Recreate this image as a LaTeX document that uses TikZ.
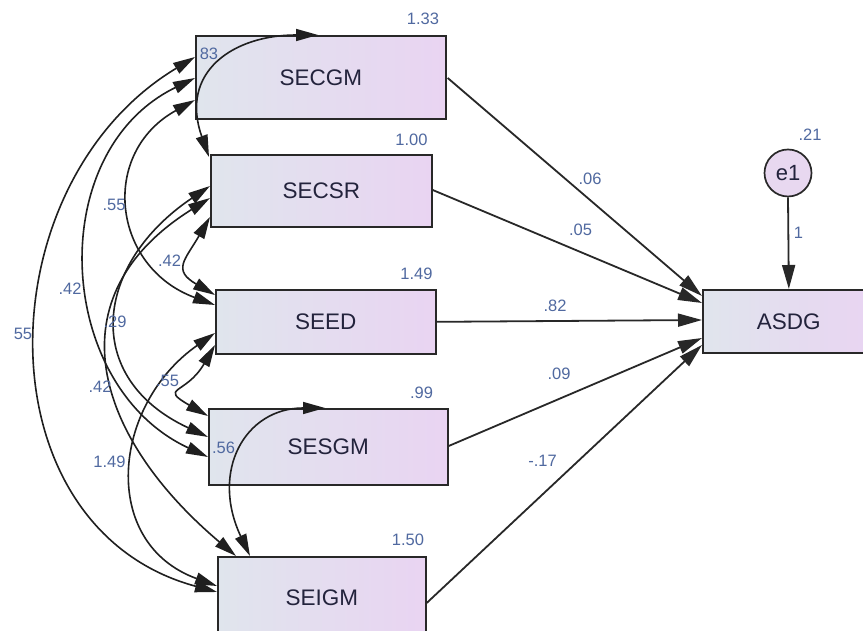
\documentclass[tikz,border=0pt]{standalone}
\usepackage{fontspec}
\setmainfont{Liberation Sans}
\usetikzlibrary{arrows.meta,calc}
\definecolor{boxL}{RGB}{224,229,237}
\definecolor{boxR}{RGB}{233,212,242}
\definecolor{circF}{RGB}{232,216,240}
\definecolor{edgecol}{RGB}{40,40,40}
\definecolor{numcol}{RGB}{80,105,160}
\definecolor{namecol}{RGB}{35,35,60}
\begin{document}
\begin{tikzpicture}[x=1pt,y=1pt,
  box/.style={draw=edgecol, line width=1.7pt, left color=boxL, right color=boxR,
    inner sep=0pt, anchor=north west, font=\fontsize{22.5}{24}\selectfont, text=namecol},
  lab/.style={font=\fontsize{16.5}{18}\selectfont, text=numcol, inner sep=0pt},
  reg/.style={draw=edgecol, line width=1.8pt, -{Triangle[length=24pt,width=13pt]}},
  cov/.style={draw=black!88, line width=1.6pt,
    {Triangle[length=22pt,width=12pt]}-{Triangle[length=22pt,width=12pt]}}]
\useasboundingbox (0,0) rectangle (863,631);
\fill[white] (0,0) rectangle (863,631);
\begin{scope}
\clip (0,0) rectangle (863,631);
% boxes
\node[box, minimum width=250pt, minimum height=83pt] (SECGM) at (195,596) {SECGM};
\node[box, minimum width=221pt, minimum height=72pt] (SECSR) at (210,477) {SECSR};
\node[box, minimum width=220pt, minimum height=64pt] (SEED)  at (215,342) {SEED};
\node[box, minimum width=239pt, minimum height=76pt] (SESGM) at (208,223) {SESGM};
\node[box, minimum width=208pt, minimum height=82pt] (SEIGM) at (217,75)  {SEIGM};
\node[box, minimum width=172pt, minimum height=63pt] (ASDG)  at (702,342) {ASDG};
\node[circle, draw=edgecol, line width=1.7pt, fill=circF, minimum size=47pt, inner sep=0pt,
  font=\fontsize{22}{24}\selectfont, text=namecol] (e1) at (788,458) {e1};

% regression paths
\draw[reg] ($(SECGM.north east)+(1,-43)$) -- ($(ASDG.north west)+(0,-7)$);
\draw[reg] ($(SECSR.north east)+(0,-36)$) -- ($(ASDG.north west)+(0,-14)$);
\draw[reg] (SEED.east) -- ($(ASDG.north west)+(0,-31)$);
\draw[reg] ($(SESGM.north east)+(0,-38)$) -- ($(ASDG.north west)+(0,-49)$);
\draw[reg] ($(SEIGM.north east)+(0,-47)$) -- ($(ASDG.north west)+(0,-56)$);
\draw[reg] (e1.south) -- (ASDG.north);

% covariances
\draw[cov] ($(SECGM.north west)+(123,0)$) .. controls +(-85,0) and +(-30,85) .. ($(SECSR.north west)+(-1,-3)$);
\draw[cov] ($(SESGM.north west)+(117,0)$) .. controls +(-80,0) and +(-40,85) .. ($(SEIGM.north west)+(33,0)$);
\draw[cov] ($(SECGM.north west)+(0,-22)$) .. controls +(-211,-127) and +(-238,64) .. ($(SEIGM.north west)+(0,-36)$);
\draw[cov] ($(SECGM.north west)+(0,-43)$) .. controls +(-152,-74) and +(-153,71) .. ($(SESGM.north west)+(0,-49)$);
\draw[cov] ($(SECGM.north west)+(0,-65)$) .. controls +(-96,-53) and +(-103,38) .. ($(SEED.north west)+(0,-16)$);
\draw[cov] ($(SECSR.north west)+(0,-63)$) .. controls +(-25,-43) and +(-43,25) .. ($(SEED.north west)+(0,-6)$);
\draw[cov] ($(SECSR.north west)+(0,-32)$) .. controls +(-116,-78) and +(-127,59) .. ($(SESGM.north west)+(0,-29)$);
\draw[cov] ($(SECSR.north west)+(0,-44)$) .. controls +(-158,-99) and +(-142,120) .. ($(SEIGM.north west)+(19,0)$);
\draw[cov] ($(SEED.north west)+(0,-56)$) .. controls +(-29,-50) and +(-50,29) .. ($(SESGM.north west)+(0,-8)$);
\draw[cov] ($(SEED.north west)+(0,-44)$) .. controls +(-103,-72) and +(-118,43) .. ($(SEIGM.north west)+(0,-30)$);

% labels: variances
\node[lab] (vSECGM) at (423,612) {1.33};
\node[lab] (vSECSR) at (411.5,491.5) {1.00};
\node[lab] (vSEED)  at (416.5,357.5) {1.49};
\node[lab] (vSESGM) at (421.5,238) {.99};
\node[lab] (vSEIGM) at (408,91) {1.50};
\node[lab] (ve1)    at (810,496.5) {.21};
% labels: regression weights
\node[lab] (w1) at (590,452) {.06};
\node[lab] (w2) at (580.5,401) {.05};
\node[lab] (w3) at (555,325) {.82};
\node[lab] (w4) at (559,257.5) {.09};
\node[lab] (w5) at (542.5,170) {-.17};
\node[lab] (w6) at (798.5,398.5) {1};
% labels: covariances
\node[lab] (c12) at (209,577) {83};
\node[lab] (c13) at (114,426.5) {.55};
\node[lab] (c23) at (169.5,370) {.42};
\node[lab] (c14) at (70,342) {.42};
\node[lab] (c15) at (23,297) {55};
\node[lab] (c24) at (115,309.5) {.29};
\node[lab] (c25) at (100,244.5) {.42};
\node[lab] (c34) at (167.5,250) {.55};
\node[lab] (c35) at (109.5,169) {1.49};
\node[lab] (c45) at (223.5,183) {.56};
\end{scope}
\end{tikzpicture}
\end{document}
